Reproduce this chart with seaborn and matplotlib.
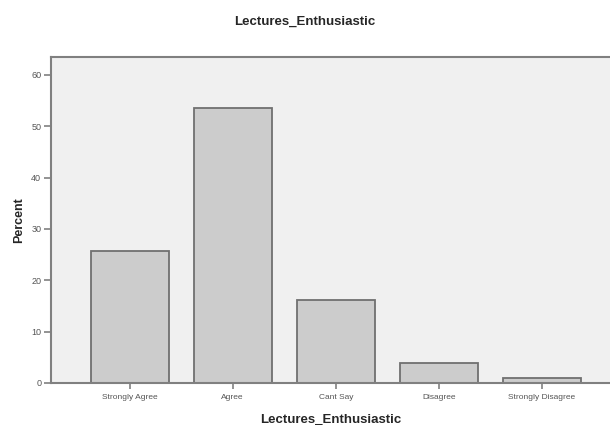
import numpy as np
import pandas as pd
import seaborn as sns
import matplotlib.pyplot as plt

categories = ["Strongly Agree", "Agree", "Cant Say", "Disagree", "Strongly Disagree"]
percent = [25.8, 53.6, 16.1, 3.9, 1.0]
yticks = [0, 10, 20, 30, 40, 50, 60]

df = pd.DataFrame({"category": categories, "percent": percent})

sns.set_style("white")
plt.rcParams['font.family'] = ['Liberation Sans', 'DejaVu Sans']
plt.rcParams['xtick.bottom'] = True
plt.rcParams['ytick.left'] = True

fig = plt.figure(figsize=(6.1, 4.25), dpi=100)
ax = fig.add_axes([51 / 610, 42 / 425, 1 - 51 / 610, 326 / 425])
ax.set_facecolor("#f0f0f0")

sns.barplot(data=df, x="category", y="percent", color="#cccccc", width=0.756,
            edgecolor="#707070", linewidth=1.3, saturation=1, ax=ax)

ax.set_xlim(-0.762, 4.66)
ax.set_ylim(0, 63.5)
ax.set_yticks(yticks)
ax.tick_params(axis="both", labelsize=6.5, colors="#808080", length=5, width=1.2,
               labelcolor="#555555", pad=2)
ax.tick_params(axis="x", length=4, labelsize=6, pad=4)
for side in ["left", "bottom", "top"]:
    ax.spines[side].set_visible(True)
    ax.spines[side].set_color("#808080")
    ax.spines[side].set_linewidth(1.5)
ax.spines["right"].set_visible(False)

ax.set_xlabel("Lectures_Enthusiastic", fontsize=9.5, fontweight="bold", labelpad=9)
ax.set_ylabel("Percent", fontsize=9, fontweight="bold", labelpad=4)
fig.suptitle("Lectures_Enthusiastic", fontsize=9.5, fontweight="bold", y=0.963)

fig.savefig("out.png", dpi=100, facecolor="white")
